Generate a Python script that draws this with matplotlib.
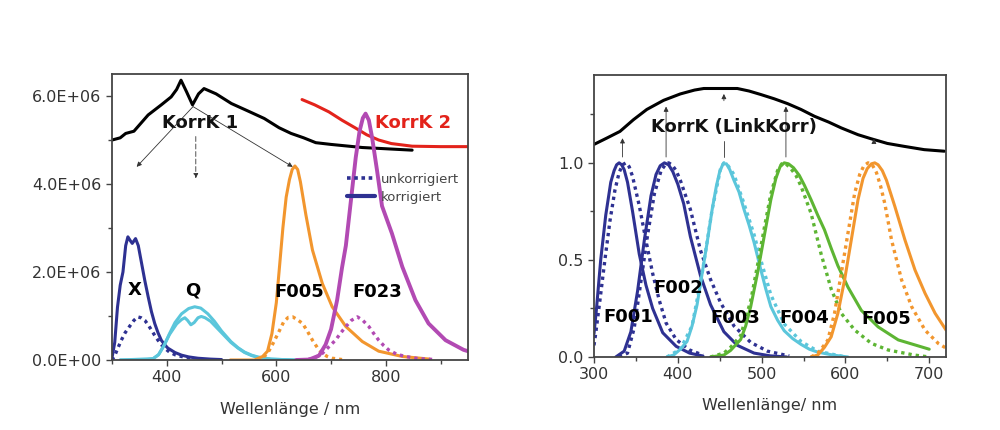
import matplotlib
matplotlib.use("Agg")
import matplotlib.pyplot as plt
from matplotlib.lines import Line2D
from matplotlib.ticker import MultipleLocator, FuncFormatter

plt.rcParams['font.family'] = ['DejaVu Sans']
plt.rcParams['lines.solid_joinstyle'] = 'round'
plt.rcParams['lines.solid_capstyle'] = 'round'

NAVY = '#2E3192'
CYAN = '#5BC6DB'
ORANGE = '#F2962E'
MAGENTA = '#B24AB3'
GREEN = '#5DB533'
RED = '#E3231B'
TXT = '#333333'

# ---------------- left panel data (values in 1E6) ----------------
korr1_x = [300, 315, 325, 340, 366, 390, 408, 418, 426, 436, 447, 458, 468, 490, 518, 550, 578, 605, 627, 650, 672, 700, 757, 848]
korr1_y = [5.0, 5.05, 5.15, 5.2, 5.57, 5.8, 5.98, 6.15, 6.36, 6.1, 5.8, 6.05, 6.17, 6.05, 5.83, 5.65, 5.49, 5.28, 5.15, 5.05, 4.94, 4.9, 4.83, 4.77]

korr2_x = [647, 670, 696, 720, 745, 765, 787, 810, 848, 900, 950]
korr2_y = [5.92, 5.80, 5.64, 5.45, 5.27, 5.12, 5.0, 4.92, 4.86, 4.85, 4.85]

x_kor_x = [300, 305, 310, 315, 320, 325, 329, 333, 337, 343, 348, 354, 360, 366, 372, 378, 384, 390, 396, 402, 415, 427, 440, 457, 480, 500]
x_kor_y = [0.05, 0.4, 1.2, 1.7, 2.0, 2.6, 2.80, 2.72, 2.65, 2.76, 2.6, 2.2, 1.8, 1.44, 1.1, 0.83, 0.62, 0.45, 0.35, 0.27, 0.17, 0.11, 0.07, 0.04, 0.02, 0.01]
x_unk_x = [300, 305, 310, 317, 324, 333, 340, 347, 353, 360, 366, 372, 378, 384, 390, 396, 405, 415, 430, 450]
x_unk_y = [0.0, 0.1, 0.25, 0.45, 0.62, 0.78, 0.9, 0.98, 0.96, 0.9, 0.8, 0.68, 0.56, 0.45, 0.35, 0.27, 0.18, 0.12, 0.07, 0.03]

q_a_x = [315, 360, 375, 385, 395, 405, 415, 427, 440, 451, 462, 475, 487, 500, 517, 530, 542, 555, 566, 590, 633]
q_a_y = [0.0, 0.0, 0.03, 0.12, 0.33, 0.6, 0.85, 1.05, 1.17, 1.21, 1.18, 1.05, 0.88, 0.66, 0.42, 0.28, 0.18, 0.11, 0.07, 0.02, 0.0]
q_b_x = [315, 375, 385, 395, 405, 418, 427, 433, 438, 444, 450, 457, 463, 470, 480, 490, 500, 517, 530, 542, 555, 566, 590, 633]
q_b_y = [0.0, 0.03, 0.12, 0.33, 0.58, 0.82, 0.92, 0.96, 0.9, 0.8, 0.85, 0.96, 0.99, 0.96, 0.88, 0.75, 0.62, 0.4, 0.27, 0.17, 0.1, 0.06, 0.02, 0.0]

f005l_kor_x = [516, 560, 575, 584, 592, 600, 605, 612, 618, 624, 629, 634, 639, 644, 648, 654, 666, 684, 702, 727, 757, 787, 830, 880]
f005l_kor_y = [0.0, 0.0, 0.08, 0.2, 0.6, 1.3, 2.0, 3.0, 3.7, 4.1, 4.33, 4.41, 4.33, 4.05, 3.75, 3.3, 2.5, 1.74, 1.21, 0.76, 0.42, 0.2, 0.08, 0.02]
f005l_unk_x = [565, 575, 584, 595, 605, 614, 622, 630, 638, 648, 657, 666, 675, 684, 693, 702, 720]
f005l_unk_y = [0.0, 0.05, 0.15, 0.4, 0.65, 0.88, 0.97, 0.98, 0.92, 0.83, 0.65, 0.45, 0.28, 0.15, 0.08, 0.04, 0.01]

f023_kor_x = [636, 660, 678, 690, 700, 711, 720, 727, 736, 745, 752, 758, 763, 769, 775, 784, 793, 811, 830, 854, 878, 909, 942, 950]
f023_kor_y = [0.0, 0.01, 0.1, 0.35, 0.7, 1.36, 2.1, 2.6, 3.6, 4.6, 5.2, 5.5, 5.6, 5.45, 5.05, 4.3, 3.5, 2.88, 2.12, 1.36, 0.83, 0.45, 0.23, 0.2]
f023_unk_x = [645, 660, 672, 684, 696, 708, 718, 727, 737, 748, 758, 769, 778, 787, 796, 805, 820, 836, 860, 890]
f023_unk_y = [0.0, 0.02, 0.06, 0.15, 0.3, 0.45, 0.62, 0.76, 0.9, 0.98, 0.9, 0.76, 0.6, 0.45, 0.33, 0.23, 0.13, 0.08, 0.03, 0.01]

left_labels = ['X', 'Q', 'F005', 'F023']
left_label_x = [342, 448, 642, 784]
left_label_y = [1.59, 1.59, 1.54, 1.54]

# ---------------- right panel data (normalised) ----------------
link_x = [300, 315, 331, 347, 363, 383, 403, 420, 431, 471, 485, 499, 515, 531, 547, 563, 580, 595, 615, 630, 650, 670, 694, 718]
link_y = [1.095, 1.127, 1.162, 1.222, 1.275, 1.322, 1.355, 1.375, 1.383, 1.383, 1.37, 1.352, 1.33, 1.305, 1.275, 1.24, 1.21, 1.18, 1.145, 1.125, 1.1, 1.085, 1.068, 1.06]

f001_kor_x = [300, 303, 308, 314, 320, 324, 327, 330, 333, 336, 340, 346, 354, 362, 370, 382, 398, 414, 430]
f001_kor_y = [0.12, 0.25, 0.5, 0.73, 0.9, 0.96, 0.99, 1.0, 0.99, 0.965, 0.9, 0.75, 0.53, 0.37, 0.25, 0.125, 0.055, 0.02, 0.005]
f001_unk_x = [300, 302, 307, 313, 319, 325, 330, 334, 338, 342, 346, 354, 362, 370, 378, 386, 398, 414, 430]
f001_unk_y = [0.06, 0.12, 0.29, 0.5, 0.7, 0.86, 0.95, 0.99, 1.0, 0.98, 0.93, 0.78, 0.6, 0.43, 0.29, 0.175, 0.09, 0.036, 0.01]

f002_kor_x = [326, 336, 344, 352, 360, 368, 374, 379, 384, 389, 394, 400, 407, 415, 427, 439, 455, 471, 491, 510, 530]
f002_kor_y = [0.0, 0.03, 0.13, 0.34, 0.6, 0.83, 0.94, 0.985, 1.0, 0.99, 0.955, 0.89, 0.79, 0.62, 0.42, 0.27, 0.13, 0.06, 0.02, 0.006, 0.0]
f002_unk_x = [330, 340, 348, 356, 364, 372, 380, 385, 389, 393, 398, 403, 415, 427, 439, 451, 467, 487, 507, 533]
f002_unk_y = [0.0, 0.02, 0.15, 0.39, 0.63, 0.84, 0.96, 0.99, 1.0, 0.99, 0.96, 0.91, 0.76, 0.55, 0.4, 0.28, 0.16, 0.075, 0.03, 0.005]

f003_kor_x = [387, 395, 403, 411, 417, 423, 429, 435, 441, 446, 450, 454, 458, 462, 467, 473, 479, 485, 491, 499, 505, 511, 519, 527, 537, 547, 557, 567, 585, 603]
f003_kor_y = [0.0, 0.01, 0.04, 0.08, 0.16, 0.27, 0.43, 0.59, 0.76, 0.88, 0.955, 0.995, 0.995, 0.965, 0.91, 0.85, 0.76, 0.68, 0.59, 0.45, 0.35, 0.26, 0.19, 0.135, 0.095, 0.065, 0.04, 0.025, 0.01, 0.0]
f003_unk_x = [387, 403, 417, 429, 441, 451, 455, 460, 467, 479, 491, 499, 511, 527, 547, 567, 600]
f003_unk_y = [0.0, 0.04, 0.16, 0.43, 0.76, 0.97, 1.0, 0.985, 0.94, 0.79, 0.63, 0.5, 0.32, 0.17, 0.08, 0.03, 0.0]

f004_kor_x = [439, 455, 463, 475, 481, 487, 495, 503, 511, 517, 522, 527, 532, 538, 545, 551, 559, 567, 575, 583, 591, 603, 619, 639, 663, 690, 700]
f004_kor_y = [0.0, 0.01, 0.034, 0.09, 0.16, 0.26, 0.43, 0.62, 0.81, 0.92, 0.98, 1.0, 0.995, 0.975, 0.935, 0.885, 0.81, 0.73, 0.655, 0.56, 0.47, 0.36, 0.24, 0.155, 0.088, 0.053, 0.04]
f004_unk_x = [439, 455, 463, 475, 487, 495, 503, 511, 519, 524, 529, 535, 541, 547, 559, 571, 583, 595, 611, 631, 651, 682, 700]
f004_unk_y = [0.0, 0.02, 0.05, 0.11, 0.29, 0.47, 0.66, 0.84, 0.96, 0.995, 0.995, 0.97, 0.935, 0.88, 0.74, 0.53, 0.35, 0.225, 0.139, 0.07, 0.036, 0.01, 0.0]

f005_kor_x = [559, 567, 575, 583, 591, 599, 607, 615, 621, 626, 631, 635, 639, 644, 649, 659, 671, 683, 695, 707, 720]
f005_kor_y = [0.0, 0.01, 0.05, 0.104, 0.225, 0.397, 0.603, 0.81, 0.92, 0.97, 0.995, 1.0, 0.99, 0.96, 0.91, 0.775, 0.603, 0.448, 0.328, 0.225, 0.139]
f005_unk_x = [559, 567, 571, 579, 587, 595, 603, 611, 617, 622, 627, 632, 637, 642, 647, 655, 667, 679, 695, 711, 720]
f005_unk_y = [0.0, 0.02, 0.04, 0.087, 0.225, 0.431, 0.637, 0.843, 0.94, 0.985, 1.0, 0.99, 0.95, 0.88, 0.79, 0.603, 0.397, 0.259, 0.138, 0.069, 0.046]

right_labels = ['F001', 'F002', 'F003', 'F004', 'F005']
right_label_x = [341, 400, 468, 551, 649]
right_label_y = [0.208, 0.357, 0.20, 0.20, 0.194]

# arrows (x, y_start, y_end)
right_arrow_x = [334, 386, 529, 634]
right_arrow_y0 = [1.03, 1.03, 1.03, 1.10]
right_arrow_y1 = [1.127, 1.29, 1.29, 1.124]

SC = 1e6
def sc(v):
    return [a * SC for a in v]

fig = plt.figure(figsize=(10, 4.3), dpi=100)
axL = fig.add_axes([0.112, 0.1628, 0.356, 0.665])
axR = fig.add_axes([0.594, 0.1698, 0.352, 0.656])

LW = 2.2
DOT = dict(linestyle=(0, (1.0, 1.2)), lw=2.4)

# ---- left ----
axL.plot(korr1_x, sc(korr1_y), color='black', lw=2.2)
axL.plot(korr2_x, sc(korr2_y), color=RED, lw=2.2)
axL.plot(x_kor_x, sc(x_kor_y), color=NAVY, lw=LW)
axL.plot(x_unk_x, sc(x_unk_y), color=NAVY, **DOT)
axL.plot(q_b_x, sc(q_b_y), color=CYAN, lw=LW)
axL.plot(q_a_x, sc(q_a_y), color=CYAN, lw=LW)
axL.plot(f005l_kor_x, sc(f005l_kor_y), color=ORANGE, lw=LW)
axL.plot(f005l_unk_x, sc(f005l_unk_y), color=ORANGE, **DOT)
axL.plot(f023_kor_x, sc(f023_kor_y), color=MAGENTA, lw=LW + 0.6)
axL.plot(f023_unk_x, sc(f023_unk_y), color=MAGENTA, **DOT)

for t, xx, yy in zip(left_labels, left_label_x, left_label_y):
    axL.text(xx, yy * SC, t, ha='center', va='center', fontsize=13, fontweight='bold', color='black')
axL.text(460, 5.38 * SC, 'KorrK 1', ha='center', va='center', fontsize=13, fontweight='bold', color='#111111')
axL.text(781, 5.38 * SC, 'KorrK 2', ha='left', va='center', fontsize=13, fontweight='bold', color=RED)

ap = dict(arrowstyle='-|>', lw=0.6, color='#333333', mutation_scale=7, shrinkA=0, shrinkB=0)
axL.annotate('', xy=(345, 4.39 * SC), xytext=(448, 5.76 * SC), arrowprops=ap)
axL.annotate('', xy=(630, 4.39 * SC), xytext=(448, 5.76 * SC), arrowprops=ap)
apd = dict(ap)
apd['linestyle'] = (0, (6, 3))
axL.annotate('', xy=(453, 4.13 * SC), xytext=(453, 5.08 * SC), arrowprops=apd)

handles = [Line2D([], [], color=NAVY, linestyle=(0, (1.0, 1.0)), lw=2.6),
           Line2D([], [], color=NAVY, lw=3.0)]
axL.legend(handles, ['unkorrigiert', 'korrigiert'], loc='upper left', bbox_to_anchor=(0.645, 0.672),
           frameon=False, fontsize=9.5, handlelength=2.1, handletextpad=0.45, labelspacing=0.35,
           borderaxespad=0, labelcolor='#444444')

axL.set_xlim(300, 950)
axL.set_ylim(0, 6.5 * SC)
axL.xaxis.set_major_locator(MultipleLocator(200))
axL.xaxis.set_minor_locator(MultipleLocator(100))
axL.yaxis.set_major_locator(MultipleLocator(2 * SC))
axL.yaxis.set_minor_locator(MultipleLocator(1 * SC))
axL.yaxis.set_major_formatter(FuncFormatter(lambda v, p: f"{v:.1E}"))
axL.set_xlabel('Wellenlänge / nm', fontsize=11.5, color=TXT, labelpad=12)

# ---- right ----
axR.plot(link_x, link_y, color='black', lw=2.2)
axR.plot(f001_kor_x, f001_kor_y, color=NAVY, lw=LW)
axR.plot(f001_unk_x, f001_unk_y, color=NAVY, **DOT)
axR.plot(f002_kor_x, f002_kor_y, color=NAVY, lw=LW)
axR.plot(f002_unk_x, f002_unk_y, color=NAVY, **DOT)
axR.plot(f003_unk_x, f003_unk_y, color=CYAN, **DOT)
axR.plot(f003_kor_x, f003_kor_y, color=CYAN, lw=LW)
axR.plot(f004_kor_x, f004_kor_y, color=GREEN, lw=LW)
axR.plot(f004_unk_x, f004_unk_y, color=GREEN, **DOT)
axR.plot(f005_kor_x, f005_kor_y, color=ORANGE, lw=LW)
axR.plot(f005_unk_x, f005_unk_y, color=ORANGE, **DOT)

for t, xx, yy in zip(right_labels, right_label_x, right_label_y):
    axR.text(xx, yy, t, ha='center', va='center', fontsize=13, fontweight='bold', color='black')

for xx, y0, y1 in zip(right_arrow_x, right_arrow_y0, right_arrow_y1):
    axR.annotate('', xy=(xx, y1), xytext=(xx, y0), arrowprops=ap)
# F003 arrow: line below the label plus small head near the curve
axR.plot([455, 455], [1.03, 1.11], color='#333333', lw=0.6)
axR.annotate('', xy=(455, 1.355), xytext=(455, 1.32), arrowprops=ap)

axR.text(467.5, 1.187, 'KorrK (LinkKorr)', ha='center', va='center', fontsize=13, fontweight='bold', color='#111111')

axR.set_xlim(300, 720)
axR.set_ylim(0, 1.453)
axR.xaxis.set_major_locator(MultipleLocator(100))
axR.xaxis.set_minor_locator(MultipleLocator(50))
axR.yaxis.set_major_locator(MultipleLocator(0.5))
axR.yaxis.set_minor_locator(MultipleLocator(0.25))
axR.yaxis.set_major_formatter(FuncFormatter(lambda v, p: f"{v:.1f}"))
axR.set_xlabel('Wellenlänge/ nm', fontsize=11.5, color=TXT, labelpad=11)

for ax in (axL, axR):
    for s in ax.spines.values():
        s.set_color('#444444')
        s.set_linewidth(1.3)
    ax.tick_params(which='major', direction='out', length=4, width=1, colors='#444444',
                   labelcolor=TXT, labelsize=11.5)
    ax.tick_params(which='minor', direction='out', length=3, width=1, colors='#444444')

fig.savefig('out.png', dpi=100, facecolor='white')
